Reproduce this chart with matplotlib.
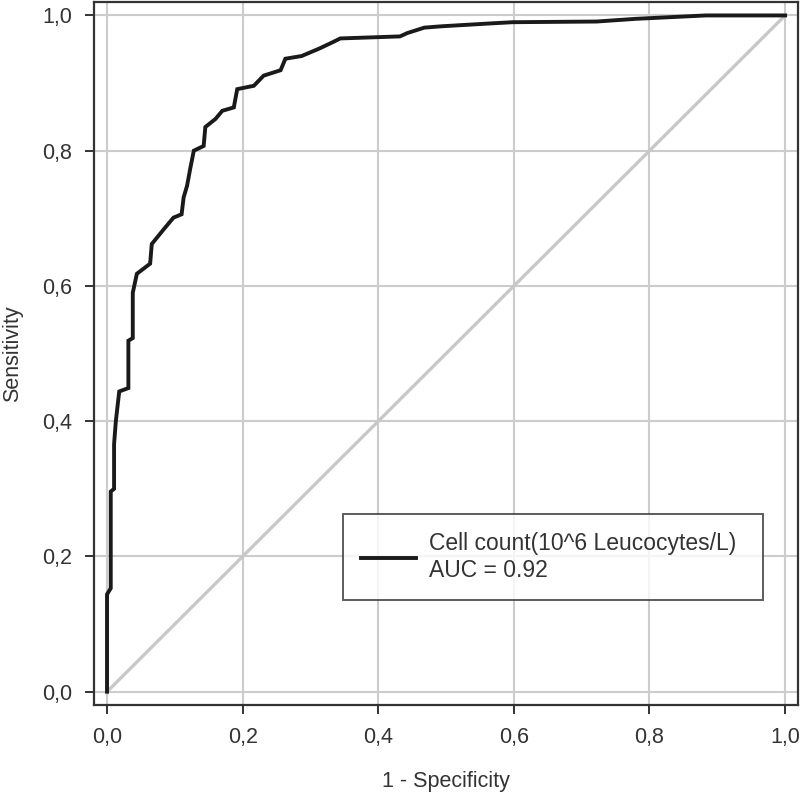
import matplotlib
matplotlib.use("Agg")
import matplotlib.pyplot as plt
from matplotlib.ticker import FuncFormatter

plt.rcParams['font.family'] = ['Liberation Sans', 'DejaVu Sans']

# ROC curve points
fpr = [0, 0, 0.0055, 0.0055, 0.0104, 0.0104, 0.013, 0.018, 0.0315, 0.0315, 0.038,
       0.038, 0.044, 0.0636, 0.066, 0.083, 0.098, 0.11, 0.113, 0.118, 0.123, 0.128,
       0.1425, 0.145, 0.16, 0.17, 0.187, 0.192, 0.2165, 0.231, 0.256, 0.263, 0.287,
       0.313, 0.334, 0.344, 0.432, 0.443, 0.468, 0.494, 0.562, 0.598, 0.722, 0.78,
       0.883, 1.0]
tpr = [0, 0.144, 0.153, 0.296, 0.30, 0.366, 0.40, 0.444, 0.449, 0.519, 0.523,
       0.59, 0.618, 0.633, 0.662, 0.683, 0.701, 0.706, 0.731, 0.748, 0.775, 0.80,
       0.807, 0.835, 0.847, 0.859, 0.864, 0.891, 0.896, 0.911, 0.919, 0.936, 0.940,
       0.951, 0.961, 0.966, 0.969, 0.974, 0.982, 0.984, 0.988, 0.990, 0.991, 0.995,
       1.0, 1.0]
ticks = [0.0, 0.2, 0.4, 0.6, 0.8, 1.0]
legend_label = "Cell count(10^6 Leucocytes/L)\nAUC = 0.92"

fig = plt.figure(figsize=(8, 7.99), dpi=100)
ax = fig.add_axes([0.1175, 0.1176, 0.88, 0.880])

ax.set_xlim(-0.0192, 1.019)
ax.set_ylim(-0.0197, 1.020)
ax.set_xticks(ticks)
ax.set_yticks(ticks)
fmt = FuncFormatter(lambda v, p: f"{v:.1f}".replace('.', ','))
ax.xaxis.set_major_formatter(fmt)
ax.yaxis.set_major_formatter(fmt)
ax.grid(True, color='#cccccc', linewidth=1.5)
ax.set_axisbelow(True)

ax.plot([0, 1], [0, 1], color='#c8c8c8', linewidth=2.4, zorder=2)
ax.plot(fpr, tpr, color='#1a1a1a', linewidth=2.8, zorder=3, label=legend_label,
        solid_joinstyle='miter')

for s in ax.spines.values():
    s.set_color('#333333')
    s.set_linewidth(1.6)
ax.tick_params(axis='both', direction='out', length=6.5, width=1.4, color='#333333',
               labelsize=15.5, labelcolor='#333333', pad=9)

ax.set_xlabel('1 - Specificity', fontsize=15.5, color='#333333', labelpad=17)
ax.set_ylabel('Sensitivity', fontsize=15.5, color='#333333', labelpad=14)

leg = ax.legend(loc='center', bbox_to_anchor=(0.3537, 0.1494, 0.5963, 0.1223),
                mode='expand', fontsize=16.5, frameon=True, fancybox=False,
                edgecolor='#333333', handlelength=2.4, handletextpad=0.55,
                borderpad=0.8, borderaxespad=0.0)
leg.get_frame().set_linewidth(1.4)
for t in leg.get_texts():
    t.set_color('#333333')
for l in leg.get_lines():
    l.set_linewidth(2.8)

fig.savefig('out.png', dpi=100)
